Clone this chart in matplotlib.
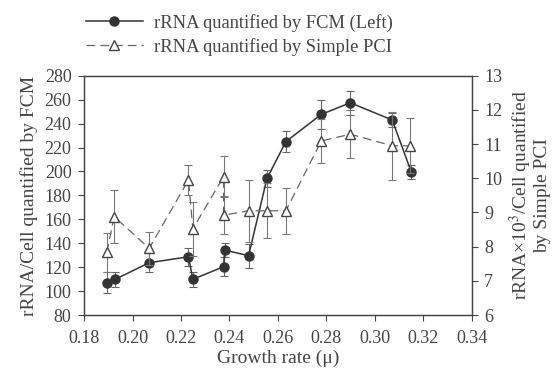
import numpy as np
import matplotlib.pyplot as plt
from matplotlib.lines import Line2D

plt.rcParams['font.family'] = ['Liberation Serif', 'DejaVu Serif']
plt.rcParams['text.color'] = '#444444'
plt.rcParams['axes.edgecolor'] = '#444444'
plt.rcParams['xtick.color'] = '#444444'
plt.rcParams['ytick.color'] = '#444444'
plt.rcParams['axes.labelcolor'] = '#444444'
plt.rcParams['mathtext.fontset'] = 'stix'

# FCM series (left axis)
fcm_x = [0.1894, 0.1928, 0.2069, 0.2231, 0.2249, 0.2376, 0.2380, 0.2479,
         0.2555, 0.2633, 0.2779, 0.2899, 0.3072, 0.3151]
fcm_y = [107.0, 109.8, 123.7, 128.7, 109.8, 120.4, 134.3, 129.6,
         194.2, 224.9, 247.7, 257.4, 243.0, 199.3]
fcm_err = [9, 6, 8, 7.5, 6, 8, 6, 10, 7, 9, 12, 10, 6, 6]

# Simple PCI series (right axis)
pci_x = [0.1894, 0.1924, 0.2069, 0.2231, 0.2249, 0.2376, 0.2376, 0.2479,
         0.2555, 0.2633, 0.2779, 0.2899, 0.3072, 0.3147]
pci_y = [7.83, 8.88, 7.95, 9.95, 8.52, 10.05, 8.92, 9.05,
         9.05, 9.05, 11.09, 11.29, 10.95, 10.95]
pci_err = [0.57, 0.77, 0.48, 0.45, 0.8, 0.6, 0.55, 0.9,
           0.8, 0.68, 0.65, 0.7, 1.0, 0.8]

fig = plt.figure(figsize=(5.53, 3.75), dpi=100)
ax = fig.add_axes([0.152, 0.16, 0.701, 0.638])
ax2 = ax.twinx()

ax.errorbar(fcm_x, fcm_y, yerr=fcm_err, color='#333333', marker='o',
            markersize=6.5, lw=1.1, ecolor='#666666', elinewidth=0.8,
            capsize=3, capthick=0.8)
ax2.errorbar(pci_x, pci_y, yerr=pci_err, color='#666666', marker='^',
             markersize=7, markerfacecolor='white', markeredgecolor='#444444',
             lw=0.9, ls=(0, (7, 4)), ecolor='#777777', elinewidth=0.8,
             capsize=3, capthick=0.8)

ax.set_xlim(0.18, 0.34)
ax.set_ylim(80, 280)
ax2.set_ylim(6, 13)
ax.set_xticks(np.arange(0.18, 0.341, 0.02))
ax.set_xticklabels(['0.18', '0.20', '0.22', '0.24', '0.26', '0.28', '0.30', '0.32', '0.34'])
ax.set_yticks(np.arange(80, 281, 20))
ax2.set_yticks(np.arange(6, 14, 1))

for a in (ax, ax2):
    a.tick_params(labelsize=13, length=4, width=0.8, direction='out', pad=5)
    for s in a.spines.values():
        s.set_linewidth(0.9)
ax.tick_params(axis='x', pad=7)

ax.set_xlabel('Growth rate (μ)', fontsize=14, labelpad=2)
ax.set_ylabel('rRNA/Cell quantified by FCM', fontsize=14, labelpad=5)
ax2.set_ylabel('rRNA×10$^3$/Cell quantified\nby Simple PCI', fontsize=14,
               labelpad=4, linespacing=1.0)

h1 = Line2D([], [], color='#333333', marker='o', markersize=6.5, lw=1.1)
h2 = Line2D([], [], color='#666666', marker='^', markersize=7,
            markerfacecolor='white', markeredgecolor='#444444', lw=0.9,
            ls=(0, (7, 4)))
fig.legend(handles=[h1, h2],
           labels=['rRNA quantified by FCM (Left)', 'rRNA quantified by Simple PCI'],
           loc='upper left', bbox_to_anchor=(0.125, 1.008),
           frameon=False, fontsize=13.3, handlelength=3.1, labelspacing=0.35,
           handletextpad=0.6)

fig.savefig('out.png', dpi=100)
